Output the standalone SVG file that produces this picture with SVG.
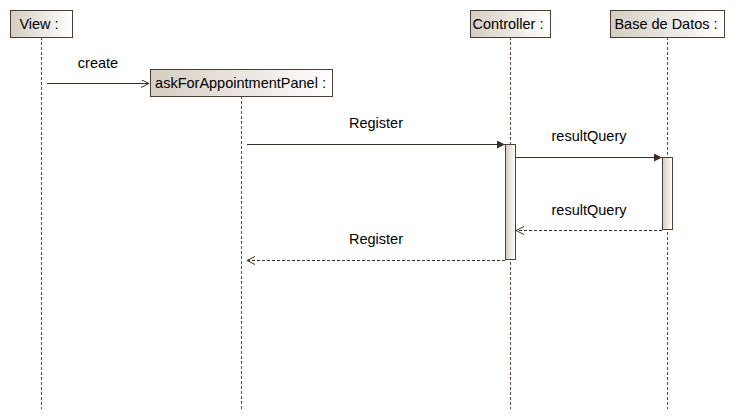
<svg xmlns="http://www.w3.org/2000/svg" width="735" height="420" viewBox="0 0 735 420">
<style>
.box{stroke:#4b3e36;stroke-width:1;fill:url(#g)}
.act{stroke:#4b3e36;stroke-width:1;fill:url(#g)}
.life{stroke:#5a4a40;stroke-width:1;stroke-dasharray:3,2;fill:none}
.msg{stroke:#3a2e28;stroke-width:1;fill:none}
.ret{stroke:#3a2e28;stroke-width:1;fill:none;stroke-dasharray:3,2}
text{font-family:"Liberation Sans",Arial,sans-serif;font-size:14.5px;fill:#000}
.lbl{text-anchor:middle}
</style>
<defs>
<linearGradient id="g" x1="0" y1="0" x2="1" y2="0">
<stop offset="0" stop-color="#d5cdc1"/>
<stop offset="1" stop-color="#ffffff"/>
</linearGradient>
<marker id="filled" markerWidth="10" markerHeight="10" refX="8" refY="4" orient="auto" markerUnits="userSpaceOnUse">
<path d="M0,0 L8,4 L0,8 Z" fill="#3a2e28"/>
</marker>
<marker id="open" markerWidth="10" markerHeight="10" refX="8" refY="4" orient="auto" markerUnits="userSpaceOnUse">
<path d="M0,0 L8,4 L0,8" fill="none" stroke="#3a2e28" stroke-width="1"/>
</marker>
</defs>
<g id="lifelines">
<line class="life" x1="41.5" y1="37" x2="41.5" y2="409"/>
<line class="life" x1="241.5" y1="96" x2="241.5" y2="410"/>
<line class="life" x1="510.5" y1="37" x2="510.5" y2="409"/>
<line class="life" x1="667.5" y1="37" x2="667.5" y2="409"/>
</g>
<g id="view">
<rect class="box" x="10.5" y="10.5" width="62" height="27"/>
<text class="lbl" x="39" y="29">View :</text>
</g>
<g id="askForAppointmentPanel">
<rect class="box" x="150.5" y="69.5" width="182" height="27"/>
<text class="lbl" x="240.5" y="88">askForAppointmentPanel :</text>
</g>
<g id="controller">
<rect class="box" x="470.5" y="10.5" width="80" height="27"/>
<text class="lbl" x="508" y="29">Controller :</text>
</g>
<g id="baseDeDatos">
<rect class="box" x="610.5" y="10.5" width="114" height="27"/>
<text class="lbl" x="666" y="29">Base de Datos :</text>
</g>
<g id="activations">
<rect class="act" x="505.5" y="144.5" width="10" height="115"/>
<rect class="act" x="662.5" y="157.5" width="10" height="72"/>
</g>
<g id="connectors">
<line class="msg" x1="47" y1="83.5" x2="149" y2="83.5" marker-end="url(#open)"/>
<text class="lbl" x="98" y="68">create</text>
<line class="msg" x1="247" y1="144.5" x2="505" y2="144.5" marker-end="url(#filled)"/>
<text class="lbl" x="376" y="128">Register</text>
<line class="msg" x1="516" y1="157.5" x2="662" y2="157.5" marker-end="url(#filled)"/>
<text class="lbl" x="589" y="141">resultQuery</text>
<line class="ret" x1="662" y1="230.5" x2="516" y2="230.5" marker-end="url(#open)"/>
<text class="lbl" x="589" y="215">resultQuery</text>
<line class="ret" x1="505" y1="260.5" x2="247" y2="260.5" marker-end="url(#open)"/>
<text class="lbl" x="376" y="244">Register</text>
</g>
</svg>
